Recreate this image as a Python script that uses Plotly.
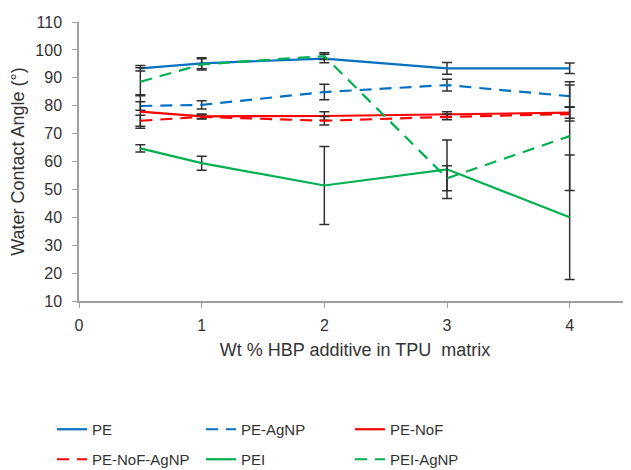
import plotly.graph_objects as go

x_vals = [0.5, 1, 2, 3, 4]

pe = [93.4, 95.2, 96.9, 93.4, 93.4]
pe_err = [1.0, 2.0, 1.5, 2.1, 1.9]

pe_agnp = [79.9, 80.3, 84.9, 87.4, 83.4]
pe_agnp_err = [1.5, 1.5, 2.8, 2.1, 4.0]

pe_nof = [77.9, 76.2, 76.3, 76.8, 77.5]
pe_nof_err = [6.0, 0.8, 1.5, 1.0, 2.0]

pe_nof_agnp = [74.6, 76.0, 74.6, 76.0, 77.0]
pe_nof_agnp_err = [2.0, 0.8, 1.5, 1.0, 2.5]

pei = [64.7, 59.4, 51.4, 57.2, 40.0]
pei_err = [1.3, 2.5, 14.0, 10.5, 22.3]

pei_agnp = [88.6, 94.8, 97.8, 54.0, 69.1]
pei_agnp_err = [5.0, 2.0, 1.2, 4.5, 19.5]

series = [
    ("PE", pe, pe_err, "#0070c0", "solid", "legend"),
    ("PE-AgNP", pe_agnp, pe_agnp_err, "#0070c0", "12px,8px", "legend"),
    ("PE-NoF", pe_nof, pe_nof_err, "#ff0000", "solid", "legend"),
    ("PE-NoF-AgNP", pe_nof_agnp, pe_nof_agnp_err, "#ff0000", "12px,8px", "legend2"),
    ("PEI", pei, pei_err, "#00b050", "solid", "legend2"),
    ("PEI-AgNP", pei_agnp, pei_agnp_err, "#00b050", "12px,8px", "legend2"),
]

fig = go.Figure()
for name, ys, errs, color, dash, leg in series:
    fig.add_trace(go.Scatter(
        x=x_vals, y=ys, name=name, mode="lines",
        line=dict(color=color, width=2.2, dash=dash),
        error_y=dict(type="data", array=errs, visible=True,
                     color="#303030", thickness=1.5, width=5),
        legend=leg,
    ))

font_family = "Liberation Sans, Arial, sans-serif"
text_color = "#333333"

# page body has an 8px default margin, so the figure is 8px smaller
W, H = 623, 462

fig.update_layout(
    width=W, height=H,
    margin=dict(l=71, r=0, t=14, b=169, autoexpand=False),
    paper_bgcolor="white", plot_bgcolor="white",
    font=dict(family=font_family, size=15, color=text_color),
    xaxis=dict(
        range=[0, 4.5], tickvals=[0, 1, 2, 3, 4], ticktext=["0", "1", "2", "3", "4"],
        showgrid=False, zeroline=False, showline=True, linecolor="#a0a0a0", linewidth=1.5,
        ticks="outside", ticklen=5, tickcolor="#a0a0a0", automargin=False,
        tickfont=dict(size=16), ticklabelstandoff=4,
        title=dict(text="Wt % HBP additive in TPU  matrix", font=dict(size=18), standoff=10),
    ),
    yaxis=dict(
        range=[10, 110], dtick=10,
        showgrid=False, zeroline=False, showline=True, linecolor="#a0a0a0", linewidth=1.5,
        ticks="outside", ticklen=5, tickcolor="#a0a0a0", automargin=False,
        tickfont=dict(size=16), ticklabelstandoff=7,
        title=dict(text="Water Contact Angle (°)", font=dict(size=18), standoff=6),
    ),
    legend=dict(orientation="h", xref="container", yref="container",
                x=44 / W, y=1 - 405 / H, xanchor="left", yanchor="top",
                entrywidth=104, entrywidthmode="pixels",
                font=dict(size=15), bgcolor="rgba(0,0,0,0)"),
    legend2=dict(orientation="h", xref="container", yref="container",
                 x=44 / W, y=1 - 435 / H, xanchor="left", yanchor="top",
                 entrywidth=104, entrywidthmode="pixels",
                 font=dict(size=15), bgcolor="rgba(0,0,0,0)"),
)

fig.write_html("out.html")
